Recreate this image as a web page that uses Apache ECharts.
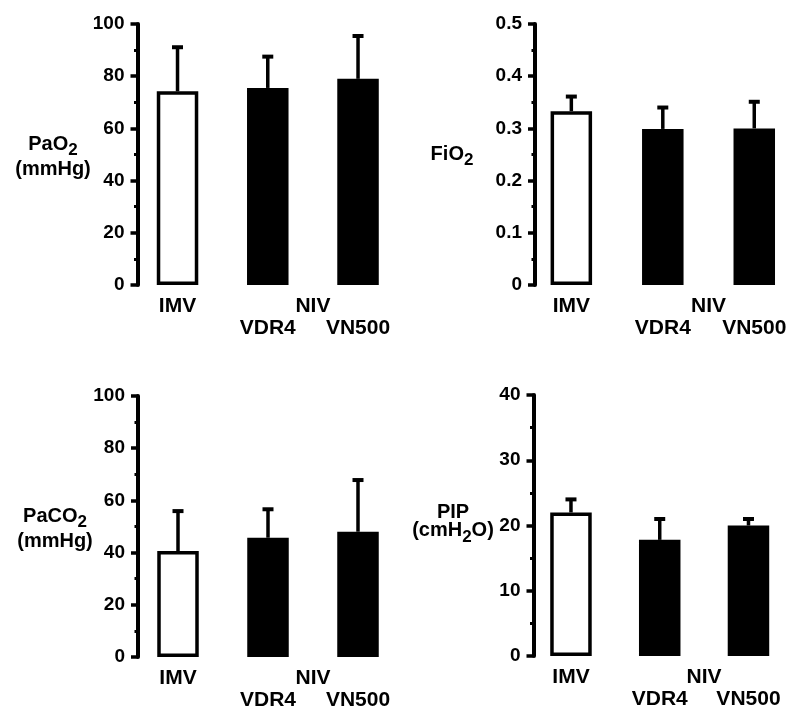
<!DOCTYPE html>
<html><head><meta charset="utf-8">
<script src="https://cdn.jsdelivr.net/npm/echarts@6/dist/echarts.min.js"></script>
<style>html,body{margin:0;padding:0;background:#fff}#c{width:800px;height:723px}</style>
</head><body><div id="c"></div>
<script>
// ---- data ----
const categories = ['IMV', 'VDR4', 'VN500'];
const groupLabel = 'NIV';
const paO2Mean  = [74.2, 75.5, 79.0];
const paO2Upper = [91.1, 87.5, 95.4];
const fiO2Mean  = [0.333, 0.299, 0.300];
const fiO2Upper = [0.361, 0.340, 0.351];
const paCO2Mean  = [40.6, 45.7, 48.0];
const paCO2Upper = [55.9, 56.6, 67.8];
const pipMean  = [22.0, 17.8, 20.0];
const pipUpper = [24.0, 21.0, 21.0];
const yMaxes = [100, 0.5, 100, 40];
const yIntervals = [20, 0.1, 20, 10];
// axis-name lines: [main, subscript, tail]
const nameP1 = [['PaO', '2', ''], ['(mmHg)', '', '']];
const nameP2 = [['FiO', '2', '']];
const nameP3 = [['PaCO', '2', ''], ['(mmHg)', '', '']];
const nameP4 = [['PIP', '', ''], ['(cmH', '2', 'O)']];

// ---- layout ----
const FONT = "'Liberation Sans', Arial, Helvetica, sans-serif";
const panels = [
  {mean: paO2Mean, upper: paO2Upper, name: nameP1, grid: {left: 132.4, top: 24, width: 270.75, height: 261}, axisX: 137.5, nameX: 53, nameY: [144, 169]},
  {mean: fiO2Mean, upper: fiO2Upper, name: nameP2, grid: {left: 525.6, top: 24, width: 275.25, height: 261}, axisX: 535, nameX: 452, nameY: [154]},
  {mean: paCO2Mean, upper: paCO2Upper, name: nameP3, grid: {left: 133, top: 396, width: 270, height: 261}, axisX: 138, nameX: 55, nameY: [516, 541]},
  {mean: pipMean, upper: pipUpper, name: nameP4, grid: {left: 526.6, top: 395, width: 266.25, height: 261}, axisX: 533.5, nameX: 453, nameY: [512.5, 530.5]}
];

function renderErr(params, api) {
  const base = api.coord([api.value(0), api.value(1)]);
  const top = api.coord([api.value(0), api.value(2)]);
  return {type: 'group', children: [
    {type: 'line', shape: {x1: base[0], y1: base[1], x2: top[0], y2: top[1]}, style: {stroke: '#000', lineWidth: 3.5}},
    {type: 'line', shape: {x1: top[0] - 5.5, y1: top[1], x2: top[0] + 5.5, y2: top[1]}, style: {stroke: '#000', lineWidth: 4}}
  ]};
}

const chart = echarts.init(document.getElementById('c'), null, {renderer: 'canvas'});
const option = {
  animation: false,
  backgroundColor: '#fff',
  grid: panels.map(p => Object.assign({containLabel: false}, p.grid)),
  xAxis: panels.map((p, i) => ({
    type: 'category', gridIndex: i, data: categories, boundaryGap: true,
    axisLine: {show: false}, axisTick: {show: false}, splitLine: {show: false},
    axisLabel: {interval: 0, margin: 10, lineHeight: 22, fontSize: 21, fontWeight: 'bold', fontFamily: FONT, color: '#000',
      formatter: v => (v === categories[0] ? v : '\n' + v)}
  })),
  yAxis: panels.map((p, i) => ({
    type: 'value', gridIndex: i, min: 0, max: yMaxes[i], interval: yIntervals[i],
    offset: p.grid.left - p.axisX,
    axisLine: {show: true, lineStyle: {color: '#000', width: 4}},
    axisTick: {show: true, length: 7, lineStyle: {color: '#000', width: 3.5}},
    minorTick: {show: true, splitNumber: 2, length: 3.5, lineStyle: {color: '#000', width: 3}},
    splitLine: {show: false},
    axisLabel: {margin: 13, fontSize: 19, fontWeight: 'bold', fontFamily: FONT, color: '#000'}
  })),
  series: []
};
panels.forEach((p, i) => {
  option.series.push({
    type: 'bar', xAxisIndex: i, yAxisIndex: i, barWidth: 41.5, silent: true,
    itemStyle: {borderColor: '#000', borderWidth: 3.5},
    data: p.mean.map((v, j) => ({value: v, itemStyle: {color: j === 0 ? '#fff' : '#000'}}))
  });
  option.series.push({
    type: 'custom', xAxisIndex: i, yAxisIndex: i, silent: true, z: 5,
    encode: {x: 0, y: [1, 2]},
    data: p.mean.map((v, j) => [j, v, p.upper[j]]),
    renderItem: renderErr
  });
});
chart.setOption(option);

const rich = {
  m: {fontSize: 20, fontWeight: 'bold', fontFamily: FONT, lineHeight: 20, verticalAlign: 'top', fill: '#000', color: '#000'},
  s: {fontSize: 17, fontWeight: 'bold', fontFamily: FONT, lineHeight: 17, padding: [8, 0, 0, 0], verticalAlign: 'top', fill: '#000', color: '#000'}
};
const graphics = [];
panels.forEach((p, i) => {
  p.name.forEach((ln, k) => {
    let t = '{m|' + ln[0] + '}';
    if (ln[1]) t += '{s|' + ln[1] + '}';
    if (ln[2]) t += '{m|' + ln[2] + '}';
    graphics.push({type: 'text', x: p.nameX, y: p.nameY[k] - 10, silent: true,
      style: {text: t, rich: rich, align: 'center', textAlign: 'center', verticalAlign: 'top', textVerticalAlign: 'top', fill: '#000'}});
  });
  const a = chart.convertToPixel({xAxisIndex: i, yAxisIndex: i}, [1, 0]);
  const b = chart.convertToPixel({xAxisIndex: i, yAxisIndex: i}, [2, 0]);
  graphics.push({type: 'text', x: (a[0] + b[0]) / 2, y: a[1] + 21, silent: true,
    style: {text: groupLabel, font: 'bold 21px ' + FONT, fill: '#000', align: 'center', textAlign: 'center', verticalAlign: 'middle', textVerticalAlign: 'middle'}});
});
chart.setOption({graphic: graphics});
</script>
</body></html>
